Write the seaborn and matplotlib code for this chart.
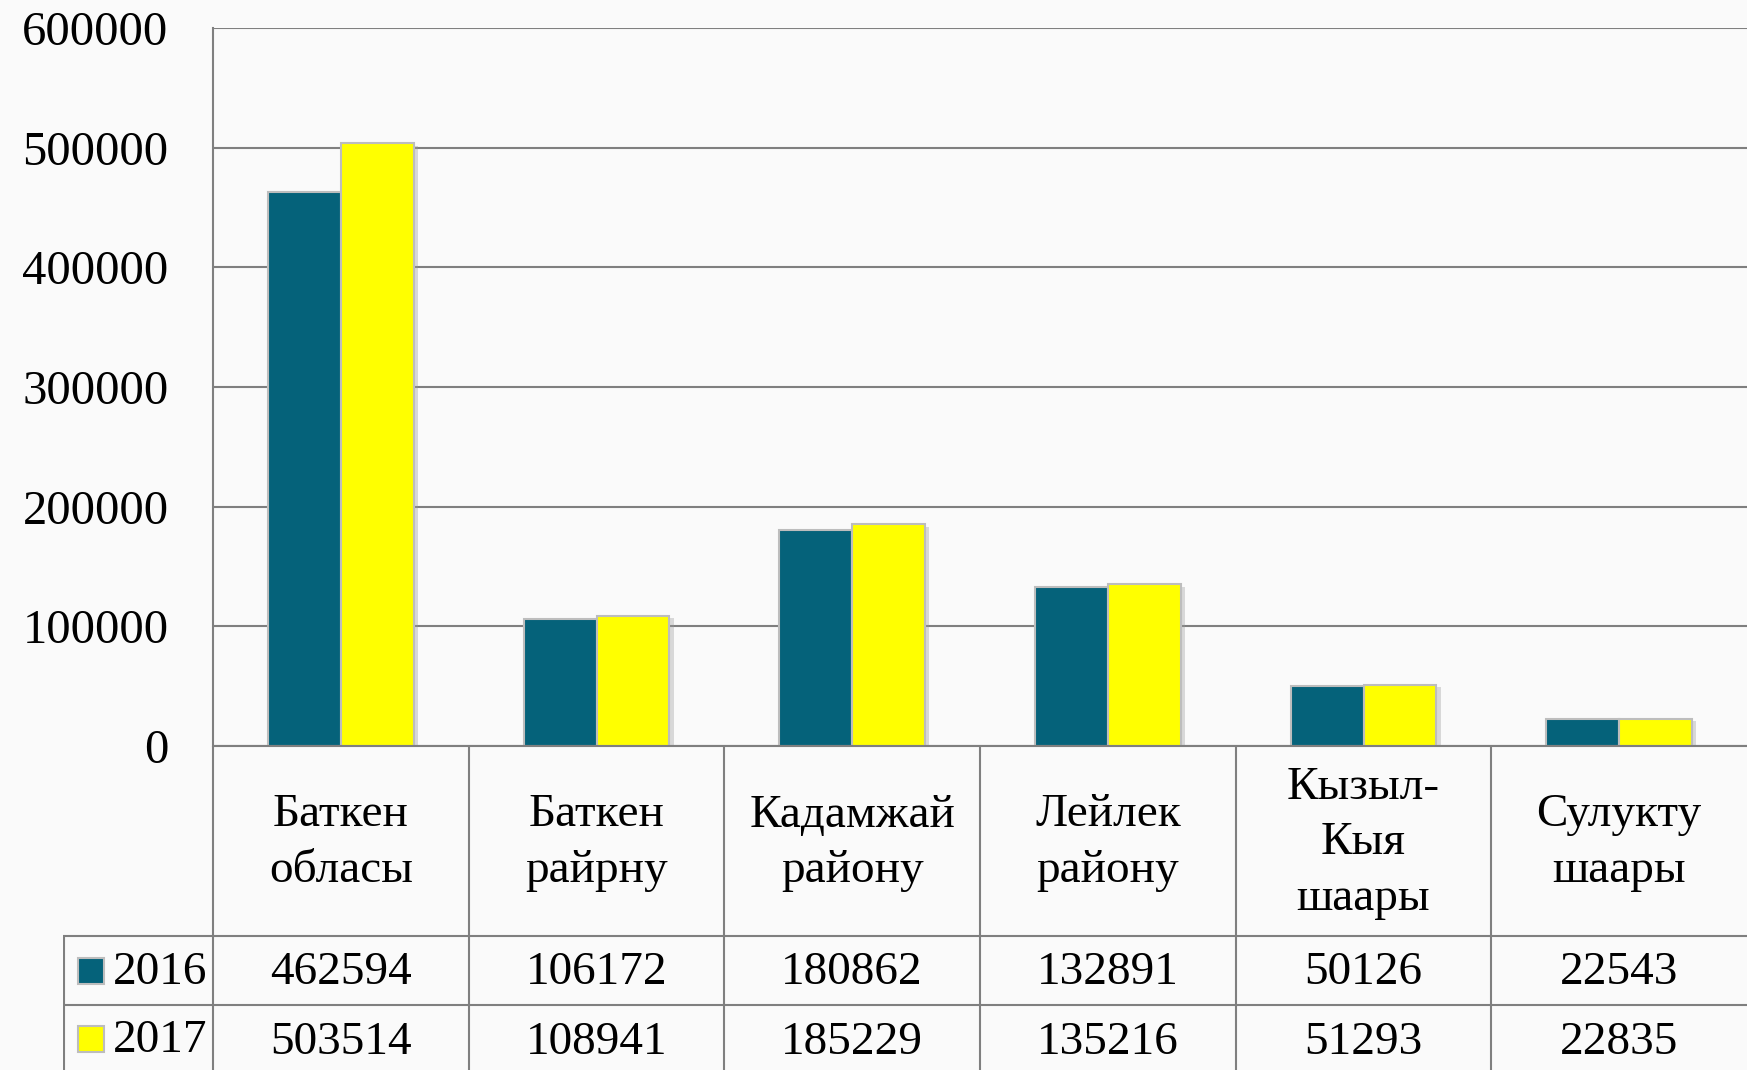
import matplotlib
matplotlib.use("Agg")
import matplotlib.pyplot as plt
import matplotlib.patheffects as pe
import pandas as pd
import seaborn as sns

# data
regions = ["Баткен\nобласы", "Баткен\nрайрну", "Кадамжай\nрайону",
           "Лейлек\nрайону", "Кызыл-\nКыя\nшаары", "Сулукту\nшаары"]
years = ["2016", "2017"]
vals_2016 = [462594, 106172, 180862, 132891, 50126, 22543]
vals_2017 = [503514, 108941, 185229, 135216, 51293, 22835]
yticks = [0, 100000, 200000, 300000, 400000, 500000, 600000]
colors = {"2016": "#05627A", "2017": "#FFFF00"}

df = pd.DataFrame({
    "region": regions * 2,
    "year": [years[0]] * 6 + [years[1]] * 6,
    "value": vals_2016 + vals_2017,
})

sns.set_theme(style="white")
plt.rcParams["font.family"] = ["Liberation Serif", "DejaVu Serif"]
plt.rcParams["text.color"] = "black"
plt.rcParams["ytick.color"] = "black"
plt.rcParams["ytick.labelcolor"] = "black"
bg = "#FAFAFA"
grid_c = "#7F7F7F"

W, H = 1747, 1070
fig = plt.figure(figsize=(W / 100, H / 100), dpi=100, facecolor=bg)

left, right, top, base = 213, 1747, 28, 746
ax = fig.add_axes([left / W, (H - base) / H, (right - left) / W, (base - top) / H])
ax.set_facecolor(bg)

sns.barplot(data=df, x="region", y="value", hue="year", palette=colors,
            saturation=1, width=0.57, gap=0, edgecolor="#BDBDBD", linewidth=1.5,
            ax=ax, legend=False, zorder=3)
for p in ax.patches:
    p.set_path_effects([pe.SimplePatchShadow(offset=(3, -2), shadow_rgbFace="#999999", alpha=0.35),
                        pe.Normal()])

ax.set_ylim(0, 600000)
ax.set_xlim(-0.5, 5.5)
ax.set_yticks(yticks)
ax.set_yticklabels([str(t) for t in yticks], fontsize=35)
ax.tick_params(axis="y", length=0, pad=32)
ax.set_xticks([])
ax.set_xlabel("")
ax.set_ylabel("")
ax.yaxis.grid(True, color=grid_c, linewidth=1.5, zorder=0)
ax.set_axisbelow(True)
for s in ["top", "right", "bottom"]:
    ax.spines[s].set_visible(False)
ax.spines["left"].set_color(grid_c)
ax.spines["left"].set_linewidth(1.5)

# data table under the chart
tab_left = 63
col_w = (right - left) / 6
tab = fig.add_axes([tab_left / W, 0, (right - tab_left) / W, (H - base) / H])
tab.set_xlim(-0.5 - (left - tab_left) / col_w, 5.5)
tab.set_ylim(H, base)
tab.axis("off")
tab.patch.set_alpha(0)

hdr_bot, row1_bot = 936, 1005
lw = 1.5
x0 = tab.get_xlim()[0]
# horizontal lines
tab.plot([-0.5, 5.5], [base, base], color=grid_c, lw=lw, clip_on=False)
tab.plot([x0, 5.5], [hdr_bot, hdr_bot], color=grid_c, lw=lw)
tab.plot([x0, 5.5], [row1_bot, row1_bot], color=grid_c, lw=lw)
# vertical lines
for i in range(6):
    tab.plot([i - 0.5, i - 0.5], [base, H], color=grid_c, lw=lw)
tab.plot([x0 + 0.004] * 2, [hdr_bot, H], color=grid_c, lw=lw)

fs = 34
for i, r in enumerate(regions):
    tab.text(i, (base + hdr_bot) / 2 + 2, r, ha="center", va="center", fontsize=fs,
             linespacing=1.4, multialignment="center")
    tab.text(i, (hdr_bot + row1_bot) / 2 + 2, str(vals_2016[i]), ha="center", va="center", fontsize=fs)
    tab.text(i, row1_bot + 38, str(vals_2017[i]), ha="center", va="center", fontsize=fs)

for y, yr in zip([(hdr_bot + row1_bot) / 2, row1_bot + 34], years):
    tab.add_patch(plt.Rectangle((x0 + 15 / col_w, y - 13), 26 / col_w, 26,
                                facecolor=colors[yr], edgecolor="#BDBDBD", lw=1.5))
    tab.text(x0 + 50 / col_w, y + 2, yr, ha="left", va="center", fontsize=fs)

fig.savefig("out.png", dpi=100, facecolor=bg)
